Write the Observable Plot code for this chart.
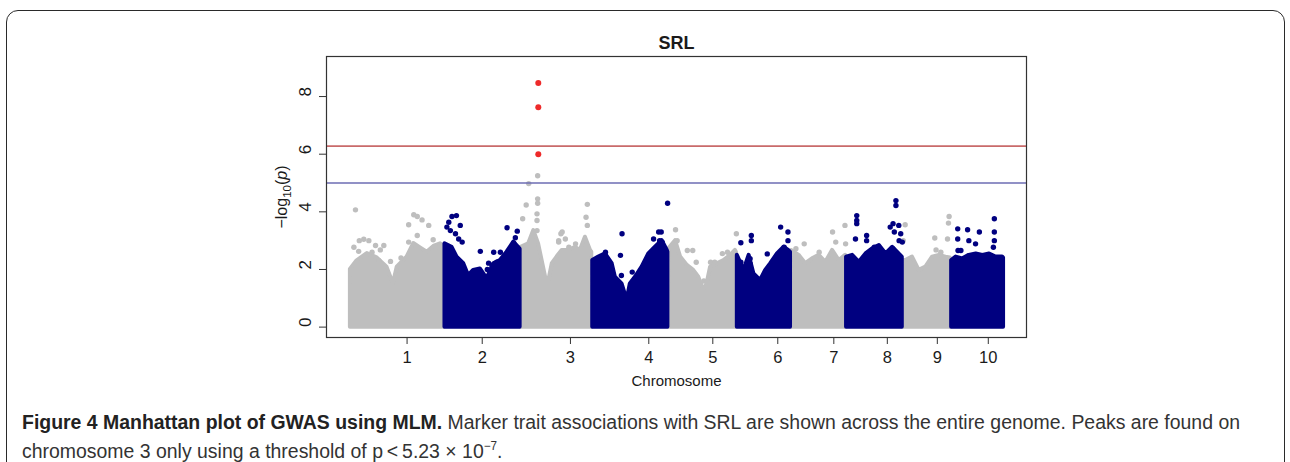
<!DOCTYPE html>
<html>
<head>
<meta charset="utf-8">
<script src="https://cdn.jsdelivr.net/npm/d3@7"></script>
<script src="https://cdn.jsdelivr.net/npm/@observablehq/plot@0.6"></script>
<style>
  html, body { margin: 0; padding: 0; background: #fff; overflow: hidden; }
  #wrap { position: relative; width: 1290px; height: 462px; }
  #border { position: absolute; left: 6px; top: 10px; width: 1277px; height: 520px;
            border: 1.5px solid #2a2a2a; border-radius: 12px; pointer-events: none; }
  #chart { position: absolute; left: 0; top: 0; }
  #caption { position: absolute; left: 22px; top: 410px;
             font-family: "Liberation Sans", Arial, sans-serif;
             font-size: 20px; line-height: 24px; color: #333; white-space: nowrap;
             transform-origin: 0 0; }
  #caption b { color: #222; }
</style>
</head>
<body>
<div id="wrap">
  <div id="chart"></div>
  <div id="caption"></div>
  <div id="border"></div>
</div>
<script>
// ---------- data ----------
const title = "SRL";
const xLabel = "Chromosome";
const chrNames = ["1","2","3","4","5","6","7","8","9","10"];
const chrLengthMb = [297, 239, 225, 239, 215, 170, 173, 178, 152, 167];
// cumulative genome position (Mb) of each chromosome label
const chrTickMb = [180, 416, 693, 939, 1140, 1344, 1520, 1688, 1845, 2005];
const yTicks = [0, 2, 4, 6, 8];
const thresholdSig = 6.28;     // -log10(5.23e-7)
const thresholdSuggest = 5;

// upper edge of the dense marker cloud: [chromosome, position in chr (Mb), -log10(p)]
const envelopeTops = [
  [1,2,2.0],[1,23,2.3],[1,55,2.55],[1,86,2.4],[1,117,2.08],[1,137,1.5],[1,149,2.08],[1,180,2.43],[1,201,2.9],[1,222,2.75],[1,243,2.6],[1,264,2.8],[1,285,2.89],[1,296,2.8],
  [2,2,2.89],[2,24,2.77],[2,40,2.43],[2,61,2.2],[2,76,1.79],[2,92,1.97],[2,113,2.02],[2,134,1.68],[2,155,2.2],[2,176,2.31],[2,197,2.6],[2,218,2.95],[2,233,2.77],[2,238,2.7],
  [3,2,2.77],[3,26,2.89],[3,42,3.35],[3,57,2.89],[3,79,1.73],[3,89,1.6],[3,100,2.2],[3,115,2.43],[3,131,2.66],[3,152,2.66],[3,173,2.77],[3,188,2.66],[3,204,3.12],[3,220,2.66],[3,224,2.6],
  [4,2,2.31],[4,21,2.43],[4,42,2.54],[4,63,2.2],[4,73,1.73],[4,94,1.5],[4,110,0.93],[4,120,1.5],[4,136,1.73],[4,157,2.08],[4,178,2.54],[4,199,2.77],[4,220,3.0],[4,236,2.66],[4,238,2.6],
  [5,2,2.72],[5,23,3.0],[5,39,2.43],[5,60,2.14],[5,80,1.97],[5,96,1.73],[5,112,1.27],[5,122,1.5],[5,133,2.08],[5,154,2.2],[5,175,2.31],[5,196,2.49],[5,211,2.66],[5,214,2.6],
  [6,2,2.49],[6,23,1.97],[6,39,2.49],[6,54,1.85],[6,75,1.62],[6,91,1.97],[6,107,2.2],[6,128,2.54],[6,149,2.77],[6,163,2.66],[6,169,2.6],
  [7,2,2.66],[7,26,2.49],[7,47,2.2],[7,68,2.37],[7,89,2.49],[7,110,2.25],[7,131,2.66],[7,152,2.31],[7,172,2.49],
  [8,2,2.43],[8,21,2.49],[8,42,2.25],[8,63,2.54],[8,84,2.72],[8,105,2.83],[8,126,2.54],[8,147,2.77],[8,167,2.54],[8,177,2.43],
  [9,2,2.31],[9,10,2.31],[9,31,2.43],[9,52,1.97],[9,73,2.08],[9,94,2.43],[9,115,2.49],[9,136,2.43],[9,150,2.4],
  [10,2,2.31],[10,16,2.43],[10,37,2.37],[10,57,2.49],[10,79,2.54],[10,100,2.49],[10,121,2.54],[10,141,2.43],[10,162,2.43],[10,165,2.4]
];

// individual markers standing above the cloud: [chromosome, position (Mb), -log10(p)]
const outlierMarkers = [
  [1,18,4.07],[1,13,2.77],[1,30,3.0],[1,44,3.05],[1,60,3.0],[1,28,2.63],[1,70,2.6],[1,81,2.83],[1,91,2.31],[1,96,2.68],[1,107,2.83],[1,128,2.28],[1,161,2.4],[1,185,3.55],[1,201,3.9],[1,212,3.84],[1,227,3.72],[1,248,3.53],[1,212,3.18],[1,185,2.95],[1,262,3.03],[1,280,2.77],
  [2,24,3.84],[2,38,3.87],[2,14,3.64],[2,8,3.47],[2,19,3.35],[2,35,3.24],[2,50,3.53],[2,45,3.06],[2,56,2.95],[2,113,2.63],[2,139,2.22],[2,155,2.6],[2,176,2.6],[2,197,3.45],[2,229,3.33],[2,223,3.1],[2,218,2.91],[2,150,2.14],[2,165,2.25],[2,135,2.0],
  [3,54,5.25],[3,26,4.98],[3,54,4.45],[3,54,4.3],[3,18,4.24],[3,210,4.26],[3,52,3.93],[3,52,3.7],[3,52,3.35],[3,7,3.76],[3,206,3.81],[3,210,3.53],[3,131,3.3],[3,120,3.0],[3,141,3.06],[3,152,2.77],[3,173,2.89],[3,127,3.24],[3,120,2.95],
  [4,94,3.24],[4,89,2.49],[4,92,1.79],[4,126,1.91],[4,42,2.6],[4,217,3.3],[4,212,3.0],[4,193,3.06],[4,237,4.3],[4,220,2.95],[4,209,3.3],
  [5,23,3.38],[5,28,3.0],[5,60,2.66],[5,77,2.66],[5,88,2.25],[5,112,1.6],[5,133,2.25],[5,146,2.25],[5,170,2.55],[5,186,2.6],[5,214,3.24],
  [6,13,2.93],[6,46,3.18],[6,46,3.0],[6,42,2.37],[6,42,2.2],[6,13,2.25],[6,18,1.97],[6,96,2.54],[6,138,3.47],[6,161,3.3],[6,161,3.0],[6,138,2.54],[6,149,2.77],
  [7,16,2.72],[7,42,2.89],[7,89,2.6],[7,131,3.3],[7,170,3.53],[7,141,2.95],[7,172,2.89],
  [8,34,3.87],[8,34,3.7],[8,34,3.59],[8,30,3.06],[8,65,3.18],[8,65,3.0],[8,157,4.39],[8,157,4.22],[8,148,3.59],[8,166,3.53],[8,172,3.24],[8,167,3.0],[8,152,3.3],[8,147,2.72],[8,139,3.47],[8,177,2.95],[8,89,2.77],
  [9,8,3.55],[9,2,3.0],[9,105,2.68],[9,101,3.09],[9,146,3.84],[9,144,3.61],[9,141,3.06],[9,120,2.6],
  [10,21,3.41],[10,21,3.06],[10,22,2.66],[10,31,2.66],[10,52,3.38],[10,89,3.3],[10,77,2.89],[10,136,3.76],[10,136,3.3],[10,136,3.0],[10,133,2.77],[10,56,3.0]
];

// markers passing the significance threshold
const significantMarkers = [[3,56,8.47],[3,56,7.63],[3,56,6.0]];

// ---------- build ----------
const gray = "#bebebe", navy = "#000080", red = "#ee2a2a";
const offsets = [0, ...d3.cumsum(chrLengthMb)];
const rows = arr => arr.map(([c, p, v]) => ({chr: c, x: offsets[c - 1] + p, y: v}));
const env = rows(envelopeTops);
const outl = rows(outlierMarkers);
const sig = rows(significantMarkers);
const chrTicks = chrTickMb.map((t, i) => ({x: t, label: chrNames[i]}));
const odd = d => d.chr % 2 === 1, even = d => d.chr % 2 === 0;
const ink = "#1a1a1a";

const chart = Plot.plot({
  width: 1290, height: 400,
  marginLeft: 326, marginRight: 264, marginTop: 56, marginBottom: 63,
  x: {domain: [-73, 2125], label: null},
  y: {domain: [-0.36, 9.39], label: null},
  style: {fontFamily: "'Liberation Sans', Arial, sans-serif", fontSize: "16px", color: ink, background: "transparent"},
  marks: [
    Plot.areaY(env, {filter: odd, x: "x", y: "y", z: "chr", fill: gray, stroke: gray, strokeWidth: 4, strokeLinejoin: "round"}),
    Plot.areaY(env, {filter: even, x: "x", y: "y", z: "chr", fill: navy, stroke: navy, strokeWidth: 4, strokeLinejoin: "round"}),
    Plot.dot(outl, {filter: odd, x: "x", y: "y", r: 2.7, fill: gray}),
    Plot.dot(outl, {filter: even, x: "x", y: "y", r: 2.7, fill: navy}),
    Plot.dot(sig, {x: "x", y: "y", r: 3, fill: red}),
    Plot.ruleY([thresholdSig], {stroke: "#c96a6a", strokeWidth: 1.7}),
    Plot.ruleY([thresholdSuggest], {stroke: "#6d6db3", strokeWidth: 1.7}),
    Plot.frame({stroke: "#333", strokeWidth: 1.2}),
    Plot.axisY(yTicks, {tickSize: 7, tickFormat: () => "", label: null, stroke: "#333"}),
    Plot.text(yTicks, {y: d => d, frameAnchor: "left", dx: -21, rotate: -90, text: d => String(d), fontSize: 17, fill: ink}),
    Plot.axisX(chrTickMb, {tickSize: 7, tickFormat: () => "", label: null, stroke: "#333"}),
    Plot.text(chrTicks, {x: "x", text: "label", frameAnchor: "bottom", dy: 25, fontSize: 16.5, fill: ink}),
    Plot.text([xLabel], {frameAnchor: "bottom", dy: 48, fontSize: 15, fill: ink}),
    Plot.text([title], {frameAnchor: "top", dy: -20, fontSize: 18, fontWeight: "bold", fill: ink})
  ]
});

// y-axis title with subscript and italic p
const svg = d3.select(chart);
const yl = svg.append("text")
  .attr("transform", "translate(287,197) rotate(-90)")
  .attr("text-anchor", "middle")
  .attr("font-family", "'Liberation Sans', Arial, sans-serif")
  .attr("font-size", 16).attr("fill", ink);
yl.append("tspan").text("\u2212log");
yl.append("tspan").attr("dy", 4).attr("font-size", 11.5).text("10");
yl.append("tspan").attr("dy", -4).text("(");
yl.append("tspan").attr("font-style", "italic").text("p");
yl.append("tspan").text(")");

document.getElementById("chart").append(chart);

const cap = document.getElementById("caption");
cap.innerHTML = "<span id='l1'><b>Figure 4 Manhattan plot of GWAS using MLM.</b> Marker trait associations with SRL are shown across the entire genome. Peaks are found on</span><br>" +
  "chromosome 3 only using a threshold of p\u2009&lt;\u20095.23 \u00d7 10<sup style='font-size:12px'>\u22127</sup>.";
const w1 = document.getElementById("l1").getBoundingClientRect().width;
cap.style.transform = `scaleX(${1218 / w1})`;
</script>
</body>
</html>
